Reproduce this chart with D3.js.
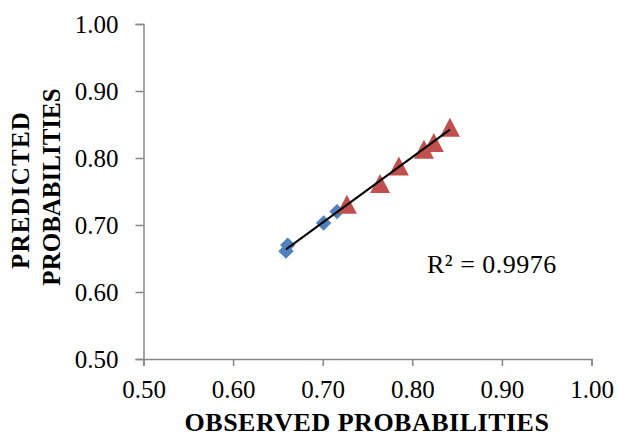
<!DOCTYPE html>
<html><head><meta charset="utf-8">
<script src="https://cdn.jsdelivr.net/npm/d3@7"></script>
<style>body{margin:0;background:#fff}svg{display:block}</style>
</head><body>
<svg id="c" width="618" height="437"></svg>
<script>
const xTicks = [0.5, 0.6, 0.7, 0.8, 0.9, 1.0];
const yTicks = [0.5, 0.6, 0.7, 0.8, 0.9, 1.0];
const blueX = [0.659, 0.661, 0.701, 0.716];
const blueY = [0.661, 0.670, 0.703, 0.720];
const redX = [0.727, 0.764, 0.785, 0.813, 0.824, 0.842];
const redY = [0.731, 0.762, 0.788, 0.813, 0.823, 0.846];
const r2Label = "R² = 0.9976";
const xTitle = "OBSERVED PROBABILITIES";
const yTitle = ["PREDICTED", "PROBABILITIES"];

const svg = d3.select("#c");
const x = d3.scaleLinear().domain([0.5, 1]).range([143.5, 591.5]);
const y = d3.scaleLinear().domain([0.5, 1]).range([359, 24]);
const axisColor = "#868686";
const font = "'Liberation Serif','Times New Roman',serif";

const xa = svg.append("g").attr("transform", `translate(0,${y(0.5)})`)
  .call(d3.axisBottom(x).tickValues(xTicks).tickFormat(d3.format(".2f")).tickSize(7).tickPadding(14));
const ya = svg.append("g").attr("transform", `translate(${x(0.5)},0)`)
  .call(d3.axisLeft(y).tickValues(yTicks).tickFormat(d3.format(".2f")).tickSize(8).tickPadding(17));
[xa, ya].forEach(a => {
  a.selectAll("path.domain").attr("stroke", axisColor).attr("stroke-width", 1.5);
  a.selectAll(".tick line").attr("stroke", axisColor).attr("stroke-width", 1.5);
  a.selectAll(".tick text").attr("fill", "#000").style("font-family", font).style("font-size", "25px");
});

// markers
const blue = blueX.map((v, i) => [v, blueY[i]]);
const red = redX.map((v, i) => [v, redY[i]]);
const diamond = d3.symbol().type(d3.symbolSquare).size(118);
svg.append("g").selectAll("path").data(blue).join("path")
  .attr("d", diamond)
  .attr("transform", d => `translate(${x(d[0])},${y(d[1])}) rotate(45)`)
  .attr("fill", "#4F81BD");
function tri(w, h) { const p = d3.path(); p.moveTo(0, -h/2); p.lineTo(w/2, h/2); p.lineTo(-w/2, h/2); p.closePath(); return p.toString(); }
svg.append("g").selectAll("path").data(red).join("path")
  .attr("d", tri(20, 19))
  .attr("transform", d => `translate(${x(d[0])},${y(d[1])})`)
  .attr("fill", "#C0504D");

// trendline (least squares over all points)
const all = blue.concat(red);
const mx = d3.mean(all, d => d[0]), my = d3.mean(all, d => d[1]);
const slope = d3.sum(all, d => (d[0]-mx)*(d[1]-my)) / d3.sum(all, d => (d[0]-mx)**2);
const icpt = my - slope*mx;
const [x0, x1] = d3.extent(all, d => d[0]);
svg.append("path").datum([x0, x1])
  .attr("d", d3.line().x(d => x(d)).y(d => y(icpt + slope*d)))
  .attr("stroke", "#000").attr("stroke-width", 2).attr("fill", "none");

svg.append("text").attr("x", 427).attr("y", 273).text(r2Label)
  .style("font-family", font).style("font-size", "26px").style("letter-spacing", "0.5px");

svg.append("text").attr("x", 367).attr("y", 431).attr("text-anchor", "middle").text(xTitle)
  .style("font-family", font).style("font-size", "26px").style("font-weight", "bold")
  .style("letter-spacing", "0.5px");
const yPos = [[29, 190], [60, 187]];
const ySpacing = ["1.2px", "0px"];
yTitle.forEach((t, i) => {
  svg.append("text").attr("transform", `translate(${yPos[i][0]},${yPos[i][1]}) rotate(-90)`)
    .attr("text-anchor", "middle").text(t)
    .style("font-family", font).style("font-size", "25px").style("font-weight", "bold")
    .style("letter-spacing", ySpacing[i]);
});
</script>
</body></html>
